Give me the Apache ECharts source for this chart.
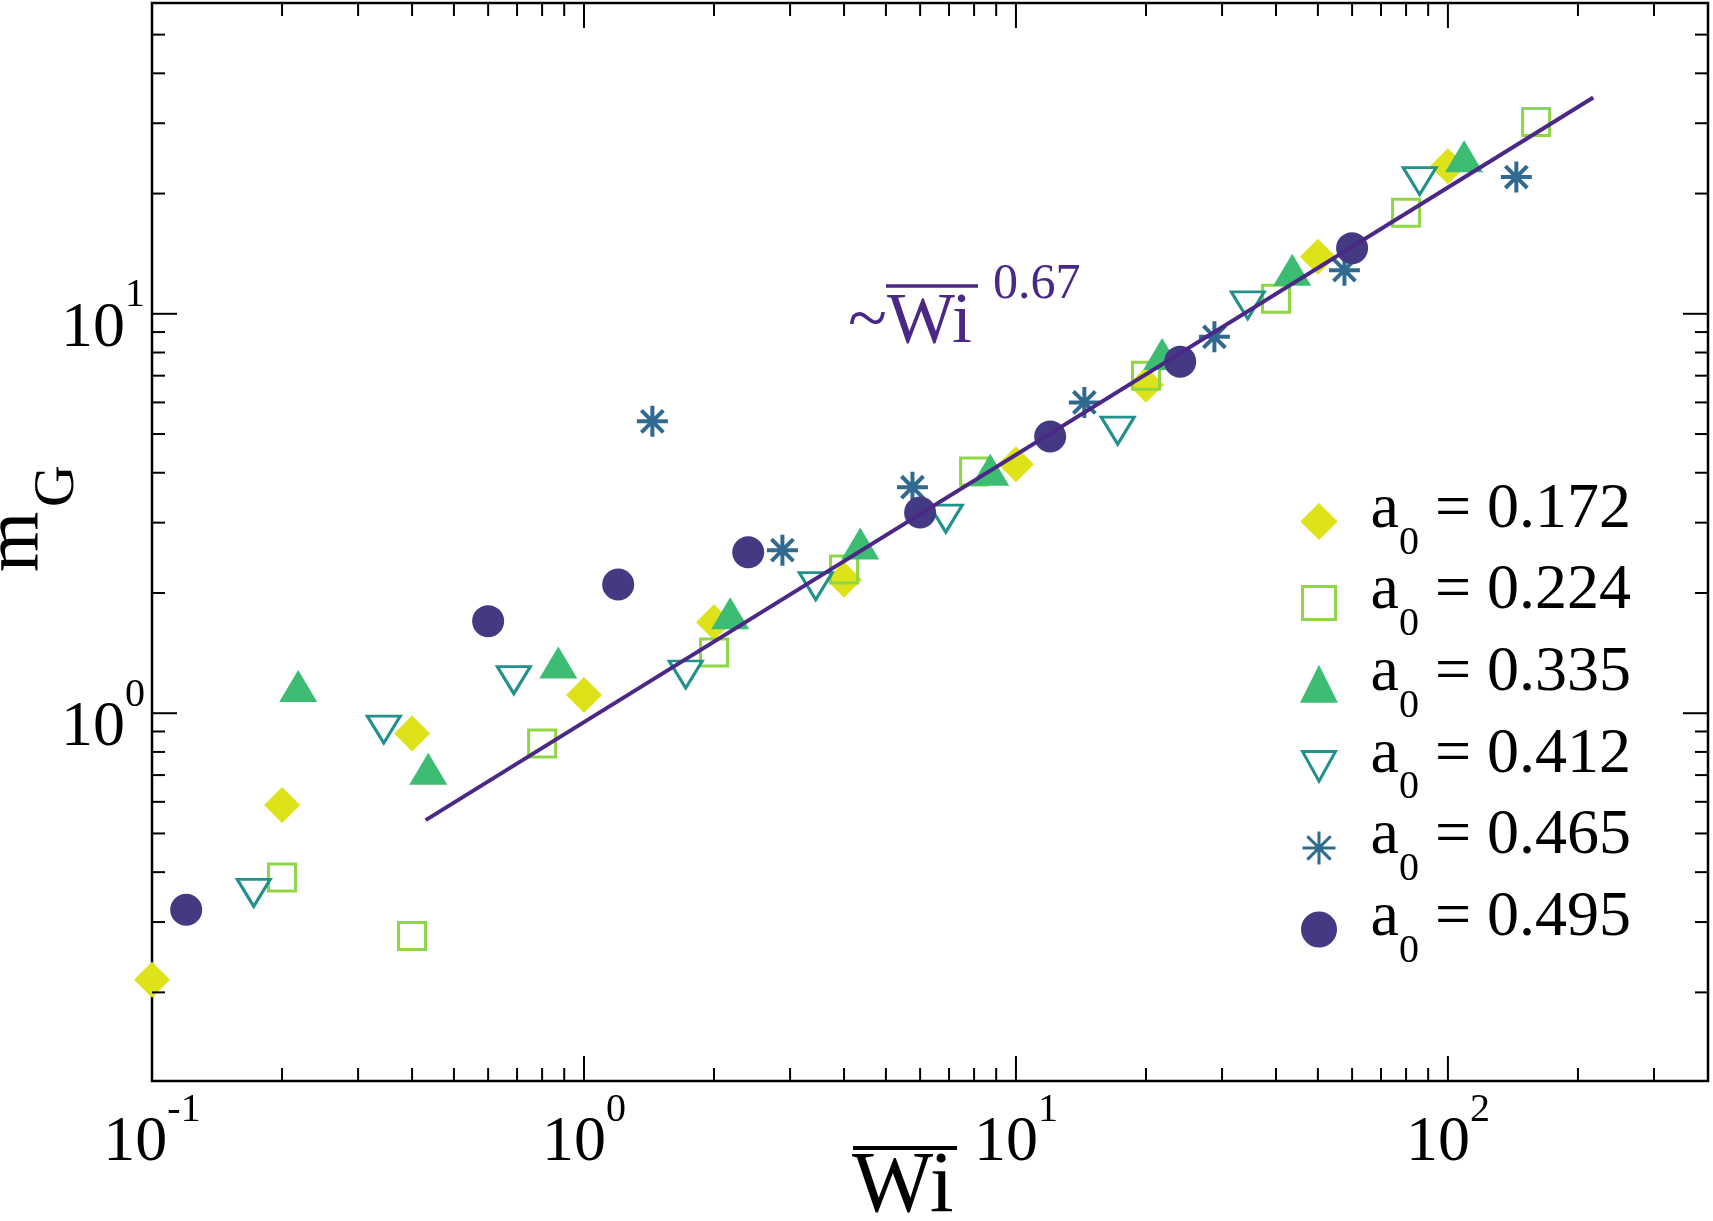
<!DOCTYPE html>
<html>
<head>
<meta charset="utf-8">
<title>m_G vs Wi</title>
<script src="https://cdn.jsdelivr.net/npm/echarts@6.0.0/dist/echarts.min.js"></script>
<style>
html, body { margin: 0; padding: 0; background: #fff; }
#chart { width: 1713px; height: 1221px; }
</style>
</head>
<body>
<div id="chart"></div>
<script>
// values: Wi (x) and m_G (y) for each a0
var wi172 = [0.1, 0.2, 0.4, 1.0, 2.0, 4.0, 10, 20, 50, 100];
var mg172 = [0.215, 0.589, 0.89, 1.11, 1.69, 2.16, 4.2, 6.64, 13.9, 23.4];

var wi224 = [0.2, 0.4, 0.8, 2.0, 4.0, 8.0, 20, 40, 80, 160];
var mg224 = [0.388, 0.277, 0.84, 1.42, 2.29, 4.03, 7.0, 10.9, 17.9, 30.2];

var wi335 = [0.218, 0.436, 0.872, 2.18, 4.36, 8.72, 21.8, 43.6, 109];
var mg335 = [1.17, 0.726, 1.34, 1.78, 2.66, 4.07, 7.93, 12.9, 24.8];

var wi412 = [0.172, 0.344, 0.688, 1.72, 3.44, 6.88, 17.2, 34.4, 86];
var mg412 = [0.355, 0.91, 1.21, 1.25, 2.08, 3.07, 5.10, 10.5, 21.5];

var wi465 = [1.44, 2.88, 5.76, 14.4, 28.8, 57.6, 144];
var mg465 = [5.38, 2.56, 3.68, 6.0, 8.76, 12.86, 22.0];

var wi495 = [0.12, 0.6, 1.2, 2.4, 6, 12, 24, 60];
var mg495 = [0.322, 1.70, 2.10, 2.53, 3.18, 4.93, 7.59, 14.6];

// power law guide ~ Wi^0.67
var fitWi = [0.43, 217];
var fitMg = [0.54, 34.8];

var a0Names = ['a0 = 0.172', 'a0 = 0.224', 'a0 = 0.335', 'a0 = 0.412', 'a0 = 0.465', 'a0 = 0.495'];

// tick values and exponents of the labels
var xMajorTicks = [0.1, 1, 10, 100];
var xMajorExp = ['-1', '0', '1', '2'];
var xMinorTicks = [0.2, 0.3, 0.4, 0.5, 0.6, 0.7, 0.8, 0.9, 2, 3, 4, 5, 6, 7, 8, 9,
                   20, 30, 40, 50, 60, 70, 80, 90, 200, 300];
var yMajorTicks = [1, 10];
var yMajorExp = ['0', '1'];
var yMinorTicks = [0.2, 0.3, 0.4, 0.5, 0.6, 0.7, 0.8, 0.9, 2, 3, 4, 5, 6, 7, 8, 9, 20, 30, 40, 50];

var X_MIN = 0.1, X_MAX = 400, Y_MIN = 0.12, Y_MAX = 60;
var SERIF = 'Liberation Serif';
var PURPLE = '#4b2885';

function pairs(xs, ys) {
    var out = [];
    for (var i = 0; i < xs.length; i++) {
        out.push([xs[i], ys[i]]);
    }
    return out;
}

//10^n label as rich text
function powLabel(x, y, align, exp) {
    return {
        type: 'text',
        x: x,
        y: y,
        style: {
            text: '{b|10}{s|' + exp + '}',
            align: align,
            verticalAlign: 'middle',
            lineHeight: 64,
            fill: '#000',
            rich: {
                b: {fontSize: 64, fontFamily: SERIF, fill: '#000'},
                s: {fontSize: 40, fontFamily: SERIF, fill: '#000', padding: [0, 0, 66, 0]}
            }
        }
    };
}

//inward ticks on both sides of the frame
function tickSeries(values, isX, major, exps) {
    return {
        type: 'custom',
        silent: true,
        clip: false,
        z: 4,
        data: values.map(function (v) { return isX ? [v, Y_MIN] : [X_MIN, v]; }),
        renderItem: function (params, api) {
            var v = api.value(isX ? 0 : 1);
            var len = major ? 25 : 13;
            var ls = {stroke: '#000', lineWidth: 2};
            var kids = [];
            if (isX) {
                var b = api.coord([v, Y_MIN]);
                var t = api.coord([v, Y_MAX]);
                kids.push({type: 'line', shape: {x1: b[0], y1: b[1], x2: b[0], y2: b[1] - len}, style: ls});
                kids.push({type: 'line', shape: {x1: t[0], y1: t[1], x2: t[0], y2: t[1] + len}, style: ls});
                if (exps) {
                    kids.push(powLabel(b[0], b[1] + 62, 'center', exps[params.dataIndex]));
                }
            } else {
                var l = api.coord([X_MIN, v]);
                var r = api.coord([X_MAX, v]);
                kids.push({type: 'line', shape: {x1: l[0], y1: l[1], x2: l[0] + len, y2: l[1]}, style: ls});
                kids.push({type: 'line', shape: {x1: r[0], y1: r[1], x2: r[0] - len, y2: r[1]}, style: ls});
                if (exps) {
                    kids.push(powLabel(l[0] - 7, l[1] + 15, 'right', exps[params.dataIndex]));
                }
            }
            return {type: 'group', children: kids};
        }
    };
}

function filled(color) {
    return {color: color, borderColor: color, borderWidth: 0, opacity: 1};
}

function hollow(color, w) {
    return {color: 'rgba(0,0,0,0)', borderColor: color, borderWidth: w, opacity: 1};
}

var chart = echarts.init(document.getElementById('chart'));

chart.setOption({
    animation: false,
    backgroundColor: '#fff',
    grid: {
        left: 152, right: 5, top: 3, bottom: 140,
        show: true,
        borderColor: '#000',
        borderWidth: 2.5,
        outerBoundsMode: 'none'
    },
    xAxis: {
        type: 'log', logBase: 10, min: X_MIN, max: X_MAX,
        axisLine: {show: false}, axisTick: {show: false},
        axisLabel: {show: false}, splitLine: {show: false}
    },
    yAxis: {
        type: 'log', logBase: 10, min: Y_MIN, max: Y_MAX,
        axisLine: {show: false}, axisTick: {show: false},
        axisLabel: {show: false}, splitLine: {show: false}
    },
    legend: {
        data: a0Names,
        orient: 'vertical',
        left: 1301,
        top: 478,
        padding: 0,
        itemWidth: 33,
        itemHeight: 33,
        itemGap: -5.4,
        selectedMode: false,
        itemStyle: {borderWidth: 3, opacity: 1},
        textStyle: {
            color: '#000', fontFamily: SERIF, fontSize: 64, lineHeight: 64,
            padding: [0, 0, 23, 30],
            rich: {
                a: {fontSize: 64, fontFamily: SERIF, color: '#000'},
                s: {fontSize: 40, fontFamily: SERIF, color: '#000', padding: [66, 0, 0, 0]},
                t: {fontSize: 64, fontFamily: SERIF, color: '#000'}
            }
        },
        formatter: function (name) {
            return '{a|a}{s|0}{t| = ' + name.split(' = ')[1] + '}';
        }
    },
    graphic: [
        // x axis title, Wi with a bar
        {type: 'text', x: 852, y: 1188, style: {text: 'Wi', fontSize: 86, fontFamily: SERIF, fill: '#000', align: 'left', verticalAlign: 'middle'}},
        {type: 'line', shape: {x1: 853, y1: 1148, x2: 957, y2: 1148}, style: {stroke: '#000', lineWidth: 4}},
        // y axis title m_G
        {type: 'text', x: 17, y: 542, rotation: Math.PI / 2, style: {text: 'm', fontSize: 78, fontFamily: SERIF, fill: '#000', align: 'center', verticalAlign: 'middle'}},
        {type: 'text', x: 58, y: 486, rotation: Math.PI / 2, style: {text: 'G', fontSize: 58, fontFamily: SERIF, fill: '#000', align: 'center', verticalAlign: 'middle'}},
        // slope note
        {type: 'text', x: 848, y: 323, style: {text: '~Wi', fontSize: 72, fontFamily: SERIF, fill: PURPLE, align: 'left', verticalAlign: 'middle'}},
        {type: 'line', shape: {x1: 886, y1: 286, x2: 978, y2: 286}, style: {stroke: PURPLE, lineWidth: 3.5}},
        {type: 'text', x: 993, y: 285, style: {text: '0.67', fontSize: 50, fontFamily: SERIF, fill: PURPLE, align: 'left', verticalAlign: 'middle'}}
    ],
    series: [
        {
            name: a0Names[0], type: 'scatter', clip: false, z: 3,
            symbol: 'diamond', symbolSize: 36,
            itemStyle: filled('#dde318'),
            data: pairs(wi172, mg172)
        },
        {
            name: a0Names[1], type: 'scatter', clip: false, z: 3,
            symbol: 'rect', symbolSize: 27,
            itemStyle: hollow('#8ed645', 3),
            data: pairs(wi224, mg224)
        },
        {
            name: a0Names[2], type: 'scatter', clip: false, z: 3,
            symbol: 'triangle', symbolSize: [38, 32],
            itemStyle: filled('#3dbc74'),
            data: pairs(wi335, mg335)
        },
        {
            name: a0Names[3], type: 'scatter', clip: false, z: 3,
            symbol: 'path://M0,0L10,0L5,9Z', symbolSize: [33, 27],
            itemStyle: hollow('#21918c', 3),
            data: pairs(wi412, mg412)
        },
        {
            name: a0Names[4], type: 'scatter', clip: false, z: 3,
            symbol: 'path://M0,5L10,5M5,0L5,10M1.46,1.46L8.54,8.54M8.54,1.46L1.46,8.54',
            symbolSize: 31,
            itemStyle: hollow('#306a8e', 4),
            data: pairs(wi465, mg465)
        },
        {
            name: a0Names[5], type: 'scatter', clip: false, z: 3,
            symbol: 'circle', symbolSize: 32,
            itemStyle: filled('#443983'),
            data: pairs(wi495, mg495)
        },
        {
            name: 'fit', type: 'line', z: 6, silent: true,
            symbol: 'none',
            lineStyle: {color: PURPLE, width: 4},
            data: pairs(fitWi, fitMg)
        },
        tickSeries(xMajorTicks, true, true, xMajorExp),
        tickSeries(xMinorTicks, true, false, null),
        tickSeries(yMajorTicks, false, true, yMajorExp),
        tickSeries(yMinorTicks, false, false, null)
    ]
});
</script>
</body>
</html>
